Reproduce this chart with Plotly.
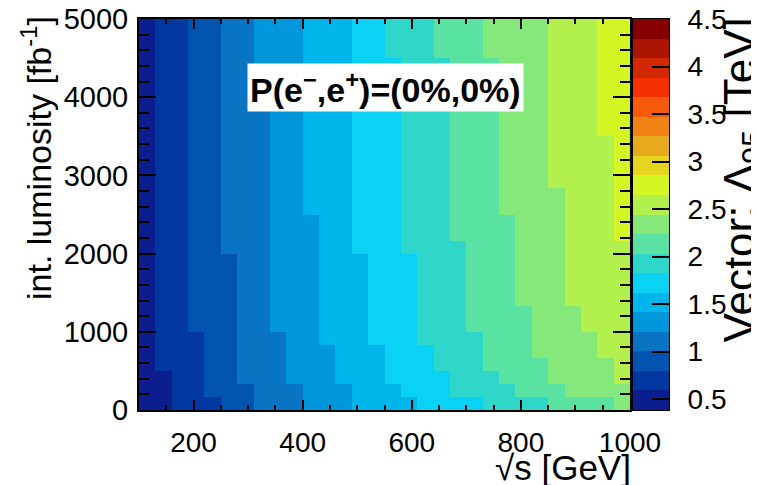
import plotly.graph_objects as go

# --- data -------------------------------------------------------------------
sqrt_s_centers = [115 + 30 * i for i in range(30)]          # GeV, 30 bins 100..1000
lumi_centers = [5000 / 30 * (j + 0.5) for j in range(30)]   # fb^-1, 30 bins 0..5000

# colour-level edges: for every luminosity row (bottom -> top) the first sqrt(s)
# bin index where each successive colour level (1..11) starts
level_edges = [
    [2, 5, 7, 10, 13, 17, 21, 25, 29, 30, 30],  # row 0
    [2, 4, 7, 10, 13, 16, 19, 23, 26, 30, 30],
    [2, 4, 6, 9, 12, 15, 19, 22, 25, 29, 30],
    [1, 4, 6, 9, 12, 15, 18, 21, 25, 29, 30],
    [1, 4, 6, 9, 12, 15, 18, 21, 24, 28, 30],
    [1, 4, 6, 9, 11, 14, 17, 21, 24, 28, 30],   # row 5
    [1, 3, 6, 8, 11, 14, 17, 20, 24, 27, 30],
    [1, 3, 6, 8, 11, 14, 17, 20, 24, 27, 30],
    [1, 3, 6, 8, 11, 14, 17, 20, 23, 26, 30],
    [1, 3, 6, 8, 11, 14, 17, 20, 23, 26, 30],
    [1, 3, 6, 8, 11, 14, 17, 20, 23, 26, 30],   # row 10
    [1, 3, 6, 8, 11, 14, 17, 20, 23, 26, 30],
    [1, 3, 5, 8, 11, 13, 16, 20, 23, 26, 30],
    [1, 3, 5, 8, 11, 13, 16, 19, 23, 26, 29],
    [1, 3, 5, 8, 11, 13, 16, 19, 23, 26, 29],
    [1, 3, 5, 8, 10, 13, 16, 19, 22, 26, 29],   # row 15
    [1, 3, 5, 8, 10, 13, 16, 19, 22, 26, 29],
    [1, 3, 5, 8, 10, 13, 16, 19, 22, 25, 29],
    [1, 3, 5, 8, 10, 13, 16, 19, 22, 25, 29],
    [1, 3, 5, 8, 10, 13, 16, 19, 22, 25, 29],
    [1, 3, 5, 8, 10, 13, 16, 19, 22, 25, 29],   # row 20
    [1, 3, 5, 8, 10, 13, 16, 19, 22, 25, 28],
    [1, 3, 5, 8, 10, 13, 16, 19, 22, 25, 28],
    [1, 3, 5, 8, 10, 13, 16, 19, 22, 25, 28],
    [1, 3, 5, 8, 10, 13, 16, 19, 22, 25, 28],
    [1, 3, 5, 7, 10, 13, 16, 19, 22, 25, 28],   # row 25
    [1, 3, 5, 7, 10, 13, 16, 19, 22, 25, 28],
    [1, 3, 5, 7, 10, 13, 15, 18, 21, 25, 28],
    [1, 3, 5, 7, 10, 13, 15, 18, 21, 25, 28],
    [1, 3, 5, 7, 10, 13, 15, 18, 21, 25, 28],   # row 29
]

z_min = 0.385
z_max = 4.5
n_levels = 20

level_colors = [
    "#0c1d8d", "#0037a0", "#0054b0", "#0a74c4", "#0096dc",
    "#00b5ec", "#0ad2f5", "#2fd7ca", "#5ae2a2", "#84e87a",
    "#b1f04d", "#d5f625", "#e6d41e", "#e8ab1e", "#f08314",
    "#f55b0a", "#f53000", "#d22800", "#aa1400", "#870000",
]

cbar_ticks = [0.5, 1, 1.5, 2, 2.5, 3, 3.5, 4, 4.5]

# --- build the histogram content -------------------------------------------
step = (z_max - z_min) / n_levels
z = []
for edges in level_edges:
    row = []
    for c in range(len(sqrt_s_centers)):
        lvl = sum(1 for e in edges if c >= e)
        row.append(z_min + (lvl + 0.5) * step)
    z.append(row)

level_centers = [z_min + (i + 0.5) * step for i in range(n_levels)]

colorscale = []
for i, col in enumerate(level_colors):
    colorscale.append([i / n_levels, col])
    colorscale.append([(i + 1) / n_levels, col])

FONT = "Liberation Sans, Arial, sans-serif"
OFF = 8                     # the page body adds an 8 px offset
W, H = 759 - OFF, 485 - OFF
ML, MT = 139 - OFF, 19 - OFF
MR = W - (669 - OFF)
MB = H - (410 - OFF)
PW = W - ML - MR            # main plot (491 px) + gap + colour bar
PH = H - MT - MB


def px_x(p):
    return (p - OFF - ML) / PW


def px_y(p):
    return (H - MB - (p - OFF)) / PH


fig = go.Figure()
fig.add_trace(go.Heatmap(
    x=sqrt_s_centers, y=lumi_centers, z=z,
    zmin=z_min, zmax=z_max, colorscale=colorscale, zsmooth=False,
    hoverinfo="skip", showscale=False, xaxis="x", yaxis="y",
))
# colour bar drawn as its own one-column histogram
fig.add_trace(go.Heatmap(
    x=[0], y=level_centers, z=[[v] for v in level_centers],
    zmin=z_min, zmax=z_max, colorscale=colorscale, zsmooth=False,
    hoverinfo="skip", showscale=False, xaxis="x2", yaxis="y2",
))

fig.update_layout(
    width=W, height=H,
    margin=dict(l=ML, r=MR, t=MT, b=MB, pad=0, autoexpand=False),
    paper_bgcolor="white", plot_bgcolor="white",
    font=dict(family=FONT, color="black"),
    showlegend=False,
    xaxis=dict(
        domain=[0, px_x(630)], range=[100, 1000], automargin=False,
        tickvals=[200, 400, 600, 800, 1000], ticklabeloverflow="allow",
        ticks="inside", ticklen=10, tickwidth=2, tickcolor="black",
        minor=dict(dtick=50, tick0=0, ticks="inside", ticklen=5, tickwidth=2,
                   tickcolor="black"),
        showline=True, linecolor="black", linewidth=2, mirror="ticks",
        showgrid=False, zeroline=False, ticklabelstandoff=6,
        tickfont=dict(family=FONT, size=28, color="black"),
    ),
    yaxis=dict(
        domain=[0, 1], range=[0, 5000], automargin=False,
        tickvals=[0, 1000, 2000, 3000, 4000, 5000], ticklabeloverflow="allow",
        ticks="inside", ticklen=17, tickwidth=2, tickcolor="black",
        minor=dict(dtick=200, tick0=0, ticks="inside", ticklen=10, tickwidth=2,
                   tickcolor="black"),
        showline=True, linecolor="black", linewidth=2, mirror="ticks",
        showgrid=False, zeroline=False, ticklabelstandoff=3,
        tickfont=dict(family=FONT, size=29, color="black"),
    ),
    xaxis2=dict(
        domain=[px_x(633), 1], range=[-0.5, 0.5], anchor="y2", automargin=False,
        showticklabels=False, ticks="", showgrid=False, zeroline=False,
        showline=True, linecolor="black", linewidth=1, mirror=True,
    ),
    yaxis2=dict(
        domain=[0, 1], range=[z_min, z_max], anchor="x2", side="right",
        automargin=False, ticklabeloverflow="allow",
        tickvals=cbar_ticks, ticks="inside", ticklen=17, tickwidth=2,
        tickcolor="black", showgrid=False, zeroline=False,
        showline=True, linecolor="black", linewidth=1, mirror=True,
        ticklabelstandoff=12,
        tickfont=dict(family=FONT, size=28, color="black"),
    ),
)

fig.add_annotation(
    text="<b>P(e<sup>−</sup>,e<sup>+</sup>)=(0%,0%)</b>",
    xref="paper", yref="paper", x=px_x(385.5), y=px_y(87.5),
    xanchor="center", yanchor="middle", showarrow=False,
    bgcolor="white", borderpad=2,
    font=dict(family=FONT, size=34, color="black"),
)
fig.add_annotation(
    text="int. luminosity [fb<sup>-1</sup>]", textangle=-90,
    xref="paper", yref="paper", x=px_x(37), y=px_y(14),
    xanchor="center", yanchor="top", showarrow=False,
    font=dict(family=FONT, size=34, color="black"),
)
fig.add_annotation(
    text="√s [GeV]",
    xref="paper", yref="paper", x=px_x(633), y=px_y(467),
    xanchor="right", yanchor="middle", showarrow=False,
    font=dict(family=FONT, size=35, color="black"),
)
fig.add_annotation(
    text="Vector: Λ<sub>95</sub> [TeV]", textangle=-90,
    xref="paper", yref="paper", x=px_x(742), y=px_y(345),
    xanchor="center", yanchor="bottom", showarrow=False,
    font=dict(family=FONT, size=44, color="black"),
)

fig.write_html("out.html")
